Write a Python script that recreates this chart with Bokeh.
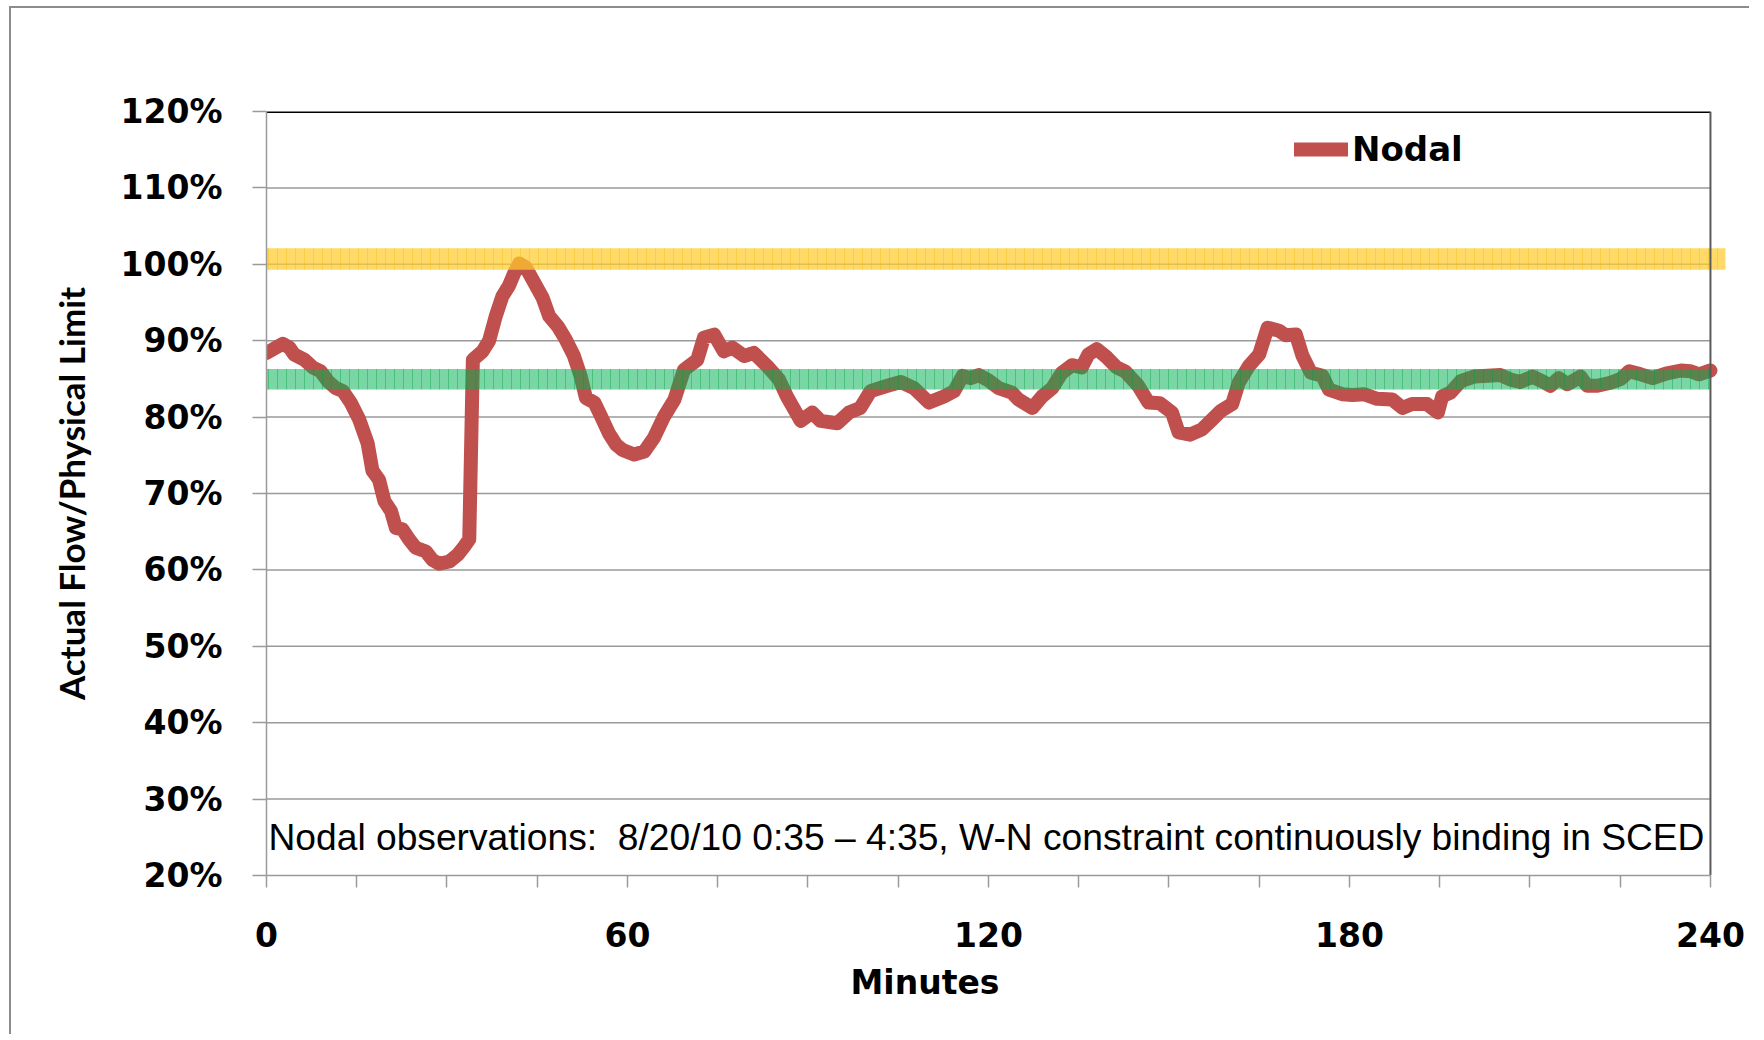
from bokeh.plotting import figure
from bokeh.models import Range1d, FixedTicker, Label, Legend, LegendItem, Title
from bokeh.embed import file_html
from bokeh.resources import INLINE

# ---- data ----
minutes = [0.0, 2.7, 3.8, 4.6, 6.3, 7.7, 9.0, 10.2, 11.5, 12.7, 14.0, 15.4, 16.8, 17.6, 18.7,
           19.6, 20.7, 21.5, 22.6, 23.7, 24.8, 26.5, 27.6, 28.7, 30.4, 31.8, 32.9, 33.7, 34.3,
           35.9, 37.0, 38.1, 39.2, 40.3, 41.2, 42.0, 43.1, 44.5, 45.9, 47.0, 48.4, 49.7, 51.1,
           52.2, 53.1, 54.5, 55.6, 56.9, 58.1, 59.2, 61.1, 62.8, 64.4, 66.1, 67.8, 69.4, 71.6,
           72.7, 74.4, 76.0, 77.4, 79.4, 81.0, 83.2, 85.2, 86.5, 88.8, 90.7, 92.1, 94.9, 96.8,
           98.7, 100.4, 103.2, 105.4, 107.6, 110.1, 112.6, 114.3, 115.7, 117.0, 118.4, 120.0,
           121.7, 123.9, 125.0, 127.3, 128.9, 130.6, 132.2, 133.9, 135.5, 136.6, 138.0, 139.7,
           141.3, 142.7, 144.9, 146.6, 148.5, 150.5, 151.6, 153.5, 155.5, 157.2, 158.6, 160.5,
           161.6, 163.3, 165.0, 166.4, 168.3, 169.4, 171.1, 172.2, 173.6, 175.5, 176.6, 178.8,
           180.5, 182.4, 184.6, 187.1, 188.8, 190.4, 192.9, 194.7, 195.4, 196.8, 198.5, 200.7,
           202.9, 205.1, 206.8, 208.4, 210.4, 212.0, 213.4, 214.8, 216.2, 218.4, 219.5, 221.2,
           223.4, 225.1, 226.5, 228.4, 230.4, 232.6, 235.1, 236.7, 238.1, 240.0]
nodal_pct = [88.4, 89.6, 89.1, 88.2, 87.5, 86.5, 86.0, 84.7, 83.8, 83.4, 81.9, 79.7, 76.6, 73.0, 71.8,
             69.0, 67.7, 65.5, 65.3, 64.0, 62.9, 62.4, 61.3, 60.8, 61.1, 62.0, 63.1, 64.0, 87.5,
             88.6, 90.0, 93.2, 95.8, 97.2, 98.9, 100.1, 99.6, 97.6, 95.6, 93.2, 91.9, 90.2, 88.0,
             85.4, 82.5, 81.9, 80.1, 77.9, 76.4, 75.7, 75.1, 75.5, 77.3, 80.1, 82.3, 86.2, 87.5,
             90.4, 90.8, 88.6, 89.1, 88.0, 88.4, 86.7, 84.9, 82.7, 79.5, 80.6, 79.5, 79.2, 80.6,
             81.2, 83.4, 84.1, 84.6, 83.8, 81.9, 82.7, 83.4, 85.4, 85.1, 85.5, 84.8,
             83.8, 83.2, 82.3, 81.2, 82.7, 83.8, 85.8, 86.8, 86.5, 88.2, 88.9, 87.8,
             86.5, 86.0, 84.1, 81.9, 81.8, 80.6, 78.0, 77.7, 78.4, 79.7, 80.8, 81.7,
             84.5, 86.7, 88.2, 91.7, 91.3, 90.7, 90.8, 88.0, 85.8, 85.4, 83.6, 83.0,
             82.9, 83.0, 82.4, 82.3, 81.2, 81.7, 81.7, 80.6, 82.7, 83.2, 84.7, 85.3,
             85.4, 85.5, 84.9, 84.6, 85.3, 84.7, 84.1, 85.1, 84.3, 85.3, 84.1, 84.1,
             84.5, 85.0, 86.0, 85.6, 85.1, 85.7, 86.1, 86.0, 85.6, 86.1]
y_ticks = [20, 30, 40, 50, 60, 70, 80, 90, 100, 110, 120]
x_ticks = [0, 15, 30, 45, 60, 75, 90, 105, 120, 135, 150, 165, 180, 195, 210, 225, 240]
x_labels = {0: "0", 60: "60", 120: "120", 180: "180", 240: "240"}
limit_band = [99.3, 102.1]
target_band = [83.6, 86.3]
series_name = "Nodal"
x_title = "Minutes"
y_title = "Actual Flow/Physical Limit"
note = "Nodal observations:\u00a0 8/20/10 0:35 \u2013 4:35, W-N constraint continuously binding in SCED"

GRID = "#9a9a9a"

p = figure(width=1740, height=1028,
           x_range=Range1d(0, 243), y_range=Range1d(20, 120),
           output_backend="svg", toolbar_location=None,
           min_border_left=255, min_border_right=23,
           min_border_top=103, min_border_bottom=161)
p.styles = {"border-left": "2px solid #8c8c8c", "border-top": "2px solid #8c8c8c",
            "margin-left": "9px", "margin-top": "6px"}
p.outline_line_color = None
p.xgrid.visible = False
p.ygrid.visible = False
p.background_fill_color = "white"
p.border_fill_color = "white"

# gridlines (stop at the chart's right edge)
inner = y_ticks[1:-1]
p.segment(x0=[x_ticks[0]] * len(inner), x1=[x_ticks[-1]] * len(inner), y0=inner, y1=inner,
          line_color=GRID, line_width=1.5)

# data line
line_r = p.line(minutes, nodal_pct, line_color="#C0504D", line_width=14,
                line_join="round", line_cap="round")

# bands drawn over the line
p.quad(left=[0], right=[242.5], bottom=[limit_band[0]], top=[limit_band[1]],
       fill_color="#FFCC2E", fill_alpha=0.72, line_color=None,
       hatch_pattern="|", hatch_color="#F2B800", hatch_alpha=0.35, hatch_scale=9, hatch_weight=1)
p.quad(left=[0], right=[240], bottom=[target_band[0]], top=[target_band[1]],
       fill_color="#00B050", fill_alpha=0.52, line_color=None,
       hatch_pattern="|", hatch_color="#00A040", hatch_alpha=0.4, hatch_scale=9, hatch_weight=1)

# top and right borders of the plot area
p.segment(x0=[0], x1=[240], y0=[120], y1=[120], line_color="black", line_width=3)
p.segment(x0=[240], x1=[240], y0=[20], y1=[120], line_color="#5a5a5a", line_width=2)

# axes
xa = p.xaxis[0]
xa.ticker = FixedTicker(ticks=x_ticks)
xa.major_label_overrides = {t: x_labels.get(t, "") for t in x_ticks}
xa.bounds = (0, 240)
xa.axis_line_color = GRID
xa.axis_line_width = 1.5
xa.major_tick_line_color = GRID
xa.major_tick_line_width = 1.5
xa.major_tick_out = 12
xa.major_tick_in = 0
xa.minor_tick_out = 0
xa.minor_tick_in = 0
xa.major_label_text_font = "DejaVu Sans"
xa.major_label_text_font_style = "bold"
xa.major_label_text_font_size = "33px"
xa.major_label_text_color = "black"
xa.major_label_standoff = 34

ya = p.yaxis[0]
ya.ticker = FixedTicker(ticks=y_ticks)
ya.major_label_overrides = {t: f"{t}%" for t in y_ticks}
ya.axis_line_color = GRID
ya.axis_line_width = 1.5
ya.major_tick_line_color = GRID
ya.major_tick_line_width = 1.5
ya.major_tick_out = 14
ya.major_tick_in = 0
ya.minor_tick_out = 0
ya.minor_tick_in = 0
ya.major_label_text_font = "DejaVu Sans"
ya.major_label_text_font_style = "bold"
ya.major_label_text_font_size = "33px"
ya.major_label_text_color = "black"
ya.major_label_standoff = 30
ya.axis_label = y_title
ya.axis_label_text_font = "Lato"
ya.axis_label_text_font_style = "bold"
ya.axis_label_text_font_size = "35px"
ya.axis_label_text_color = "black"
ya.axis_label_standoff = 26

# x title (placed under the axis, left-aligned with an offset as in the reference)
p.add_layout(Title(text=x_title, align="left", offset=584, text_font="DejaVu Sans",
                   text_font_style="bold", text_font_size="33px", text_color="black",
                   standoff=22), "below")

# note inside plot
p.add_layout(Label(x=0.33, y=25.0, text=note, text_font="Liberation Sans",
                   text_font_size="37.2px", text_align="left", text_baseline="middle",
                   text_color="black"))

legend = Legend(items=[LegendItem(label=series_name, renderers=[line_r])],
                location=(1028, 706), glyph_width=54, glyph_height=40,
                label_standoff=4, padding=0, margin=0, spacing=0,
                border_line_alpha=0, background_fill_alpha=0,
                label_text_font="DejaVu Sans", label_text_font_style="bold",
                label_text_font_size="34px", label_text_color="black")
p.add_layout(legend)

open("out.html", "w").write(file_html(p, INLINE))
